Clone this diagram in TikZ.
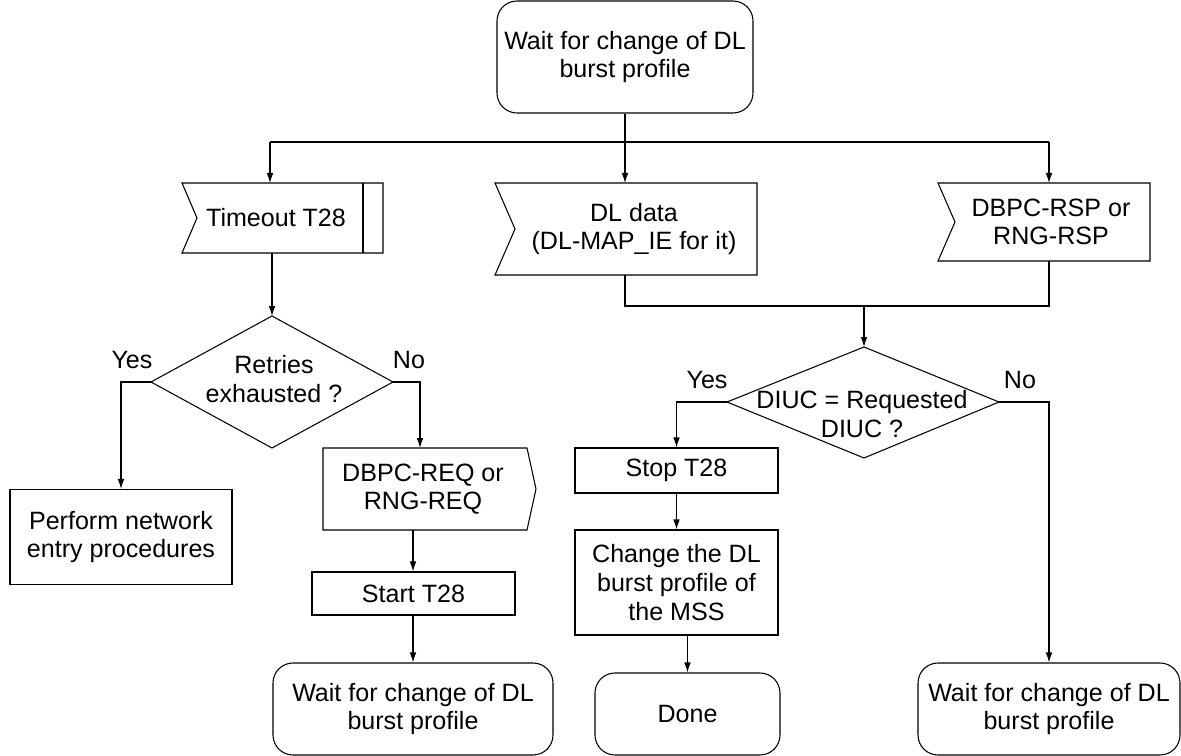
\documentclass[tikz,border=0pt]{standalone}
\usepackage{fontspec}
\setmainfont{Liberation Sans}
\usetikzlibrary{arrows.meta,calc}
\begin{document}
\begin{tikzpicture}[x=0.75pt,y=-0.75pt,
  font=\fontsize{18.8}{21.5}\selectfont,
  box/.style={draw, line width=0.8pt, align=center, inner sep=0pt},
  rbox/.style={box, rounded corners=15pt},
  mw/.style={minimum width=#1*0.75pt},
  mh/.style={minimum height=#1*0.75pt},
  line/.style={draw, line width=0.8pt},
  arr/.style={line, -{Latex[length=7.5pt,width=5pt]}},
  lbl/.style={inner sep=0pt, align=center}]
\useasboundingbox (0,0) rectangle (1181,756);

% top
\node[rbox, mw=256, mh=112] (top) at (625,57) {Wait for change of DL\\burst profile};

% Timeout T28 (input signal with inner bar)
\coordinate (toTL) at (182,183); \coordinate (toTR) at (383,183);
\coordinate (toBR) at (383,253); \coordinate (toBL) at (182,253);
\coordinate (toN) at (197,218);
\coordinate (toT) at (270,183); \coordinate (toB) at (272,253);
\draw[line] (toTL) -- (toTR) -- (toBR) -- (toBL) -- (toN) -- cycle;
\draw[line] (363,183) -- (363,253);
\node[lbl] (to) at (276,218) {Timeout T28};

% DL data (input signal)
\coordinate (dlTL) at (495,183); \coordinate (dlTR) at (757,183);
\coordinate (dlBR) at (757,275); \coordinate (dlBL) at (495,275);
\coordinate (dlN) at (515,229);
\coordinate (dlT) at (625,183); \coordinate (dlB) at (625,275);
\draw[line] (dlTL) -- (dlTR) -- (dlBR) -- (dlBL) -- (dlN) -- cycle;
\node[lbl] (dl) at (634,229) {DL data\\(DL-MAP\_IE for it)};

% DBPC-RSP (input signal)
\coordinate (rsTL) at (938,183); \coordinate (rsTR) at (1150,183);
\coordinate (rsBR) at (1150,261); \coordinate (rsBL) at (938,261);
\coordinate (rsN) at (955,222);
\coordinate (rsT) at (1049,183); \coordinate (rsB) at (1049,261);
\draw[line] (rsTL) -- (rsTR) -- (rsBR) -- (rsBL) -- (rsN) -- cycle;
\node[lbl] (rs) at (1051,222) {DBPC-RSP or\\RNG-RSP};

% decision 1
\coordinate (d1T) at (272,316); \coordinate (d1R) at (393,382);
\coordinate (d1B) at (272,448); \coordinate (d1L) at (151,382);
\draw[line] (d1T) -- (d1R) -- (d1B) -- (d1L) -- cycle;
\node[lbl] (d1) at (274,379) {Retries\\exhausted ?};

% perform
\node[box, mw=222, mh=95] (perf) at (121,537) {Perform network\\entry procedures};

% DBPC-REQ (output signal)
\coordinate (rqTL) at (323,448); \coordinate (rqTR) at (527,448);
\coordinate (rqP) at (536,489);
\coordinate (rqBR) at (527,530); \coordinate (rqBL) at (323,530);
\coordinate (rqT) at (420,448); \coordinate (rqB) at (413,530);
\draw[line] (rqTL) -- (rqTR) -- (rqP) -- (rqBR) -- (rqBL) -- cycle;
\node[lbl] (rq) at (423,489) {DBPC-REQ or\\RNG-REQ};

% start T28
\node[box, mw=203, mh=43] (start) at (413.5,593.5) {Start T28};
% wait 1
\node[rbox, mw=280, mh=92] (wait1) at (413,709) {Wait for change of DL\\burst profile};

% decision 2
\coordinate (d2T) at (864,347); \coordinate (d2R) at (999,402);
\coordinate (d2B) at (864,458); \coordinate (d2L) at (727,402);
\draw[line] (d2T) -- (d2R) -- (d2B) -- (d2L) -- cycle;
\node[lbl] (d2) at (862,414) {DIUC = Requested\\DIUC ?};

% stop, change, done
\node[box, mw=203, mh=45] (stop) at (676.5,470.5) {Stop T28};
\node[box, mw=203, mh=105] (change) at (676.5,582.5) {Change the DL\\burst profile of\\the MSS};
\node[rbox, mw=185, mh=82] (done) at (687.5,714) {Done};
% wait 2
\node[rbox, mw=262, mh=92] (wait2) at (1049,709) {Wait for change of DL\\burst profile};

% labels
\node[lbl] (y1) at (132,360) {Yes};
\node[lbl] (n1) at (409,360) {No};
\node[lbl] (y2) at (707,380) {Yes};
\node[lbl] (n2) at (1020,380) {No};

% connectors
\coordinate (split) at (625,142);
\draw[line] (top.south) -- (split);
\draw[line] (toT |- split) -- (rsT |- split);
\draw[arr] (toT |- split) -- (toT);
\draw[arr] (split) -- (dlT);
\draw[arr] (rsT |- split) -- (rsT);
\draw[arr] (toB) -- (d1T);
\draw[arr] (d1L) -| (perf.north);
\draw[arr] (d1R) -| (rqT);
\draw[arr] (rqB) -- (rqB |- start.north);
\draw[arr] (rqB |- start.south) -- (rqB |- wait1.north);

\coordinate (join) at (625,306);
\draw[line] (dlB) -- (join) -- (rsB |- join) -- (rsB);
\draw[arr] (d2T |- join) -- (d2T);
\draw[arr] (d2L) -| (stop.north);
\draw[arr] (d2R) -| (wait2.north);
\draw[arr] (stop.south) -- (change.north);
\draw[arr] (done.north |- change.south) -- (done.north);
\end{tikzpicture}
\end{document}
